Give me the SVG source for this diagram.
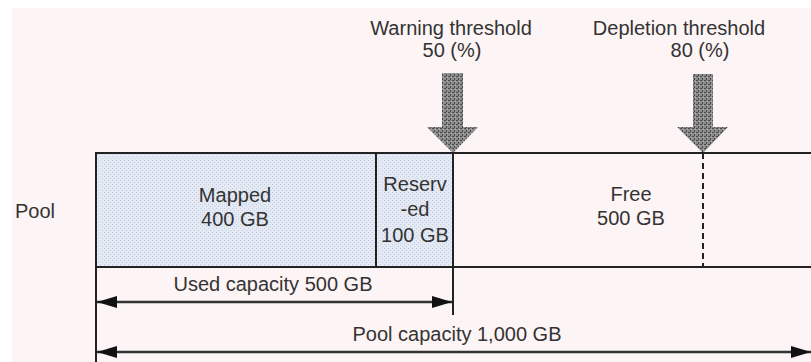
<svg xmlns="http://www.w3.org/2000/svg" width="811" height="362" viewBox="0 0 811 362">
  <defs>
    <pattern id="dotsBlue" width="4" height="4" patternUnits="userSpaceOnUse">
      <rect width="4" height="4" fill="#e3eaf6"/>
      <rect x="0" y="0" width="1" height="1" fill="#c4ccd8"/>
      <rect x="2" y="2" width="1" height="1" fill="#c4ccd8"/>
    </pattern>
    <pattern id="dotsGray" width="4" height="4" patternUnits="userSpaceOnUse">
      <rect width="4" height="4" fill="#8e8e8e"/>
      <rect x="0" y="0" width="2" height="1" fill="#4a4a4a"/>
      <rect x="2" y="2" width="1" height="2" fill="#4a4a4a"/>
      <rect x="3" y="1" width="1" height="1" fill="#b0b0b0"/>
    </pattern>
    <marker id="ah" viewBox="0 0 20 12" refX="20" refY="6" markerWidth="20" markerHeight="12" markerUnits="userSpaceOnUse" orient="auto-start-reverse">
      <path d="M0,0 L20,6 L0,12 Z" fill="#111"/>
    </marker>
    <style>
      text { font-family: "Liberation Sans", Arial, sans-serif; font-size: 20px; fill: #333; }
      .c { text-anchor: middle; }
      .ln { stroke: #222; stroke-width: 2; fill: none; }
      .dim { stroke: #333; stroke-width: 2.5; fill: none; }
    </style>
  </defs>

  <rect x="12" y="8" width="799" height="354" fill="#fdf4f5"/>

  <g id="pool-label">
    <text x="15" y="218">Pool</text>
  </g>

  <g id="mapped">
    <rect x="96" y="153" width="280" height="114" fill="url(#dotsBlue)"/>
    <text class="c" x="235" y="202">Mapped</text>
    <text class="c" x="235" y="226">400 GB</text>
  </g>

  <g id="reserved">
    <rect x="376" y="153" width="77" height="114" fill="url(#dotsBlue)"/>
    <text class="c" x="415" y="191">Reserv</text>
    <text class="c" x="415" y="216">-ed</text>
    <text class="c" x="415" y="242">100 GB</text>
  </g>

  <g id="free">
    <text class="c" x="631" y="201">Free</text>
    <text class="c" x="631" y="225">500 GB</text>
  </g>

  <g id="warning-threshold">
    <text class="c" x="451" y="35">Warning threshold</text>
    <text class="c" x="452" y="57">50 (%)</text>
    <path d="M442,73 L463,73 L463,127 L478,127 L453,153 L427,127 L442,127 Z" fill="url(#dotsGray)"/>
  </g>

  <g id="depletion-threshold">
    <text class="c" x="679" y="35">Depletion threshold</text>
    <text class="c" x="700" y="57">80 (%)</text>
    <path d="M693,74 L713,74 L713,127 L728,127 L703,153 L677,127 L693,127 Z" fill="url(#dotsGray)"/>
  </g>

  <g id="connectors">
    <line class="ln" x1="96" y1="153" x2="811" y2="153"/>
    <line class="ln" x1="96" y1="267" x2="811" y2="267"/>
    <line class="ln" x1="96" y1="152" x2="96" y2="362"/>
    <line class="ln" x1="376" y1="153" x2="376" y2="267"/>
    <line class="ln" x1="453" y1="152" x2="453" y2="315"/>
    <line class="ln" x1="703" y1="153" x2="703" y2="267" stroke-dasharray="6,4"/>
    <line class="dim" x1="97" y1="302" x2="452" y2="302" marker-start="url(#ah)" marker-end="url(#ah)"/>
    <line class="dim" x1="97" y1="352" x2="811" y2="352" marker-start="url(#ah)" marker-end="url(#ah)"/>
  </g>

  <g id="used-capacity">
    <text class="c" x="273" y="291">Used capacity 500 GB</text>
  </g>
  <g id="pool-capacity">
    <text class="c" x="457" y="341">Pool capacity 1,000 GB</text>
  </g>
</svg>
